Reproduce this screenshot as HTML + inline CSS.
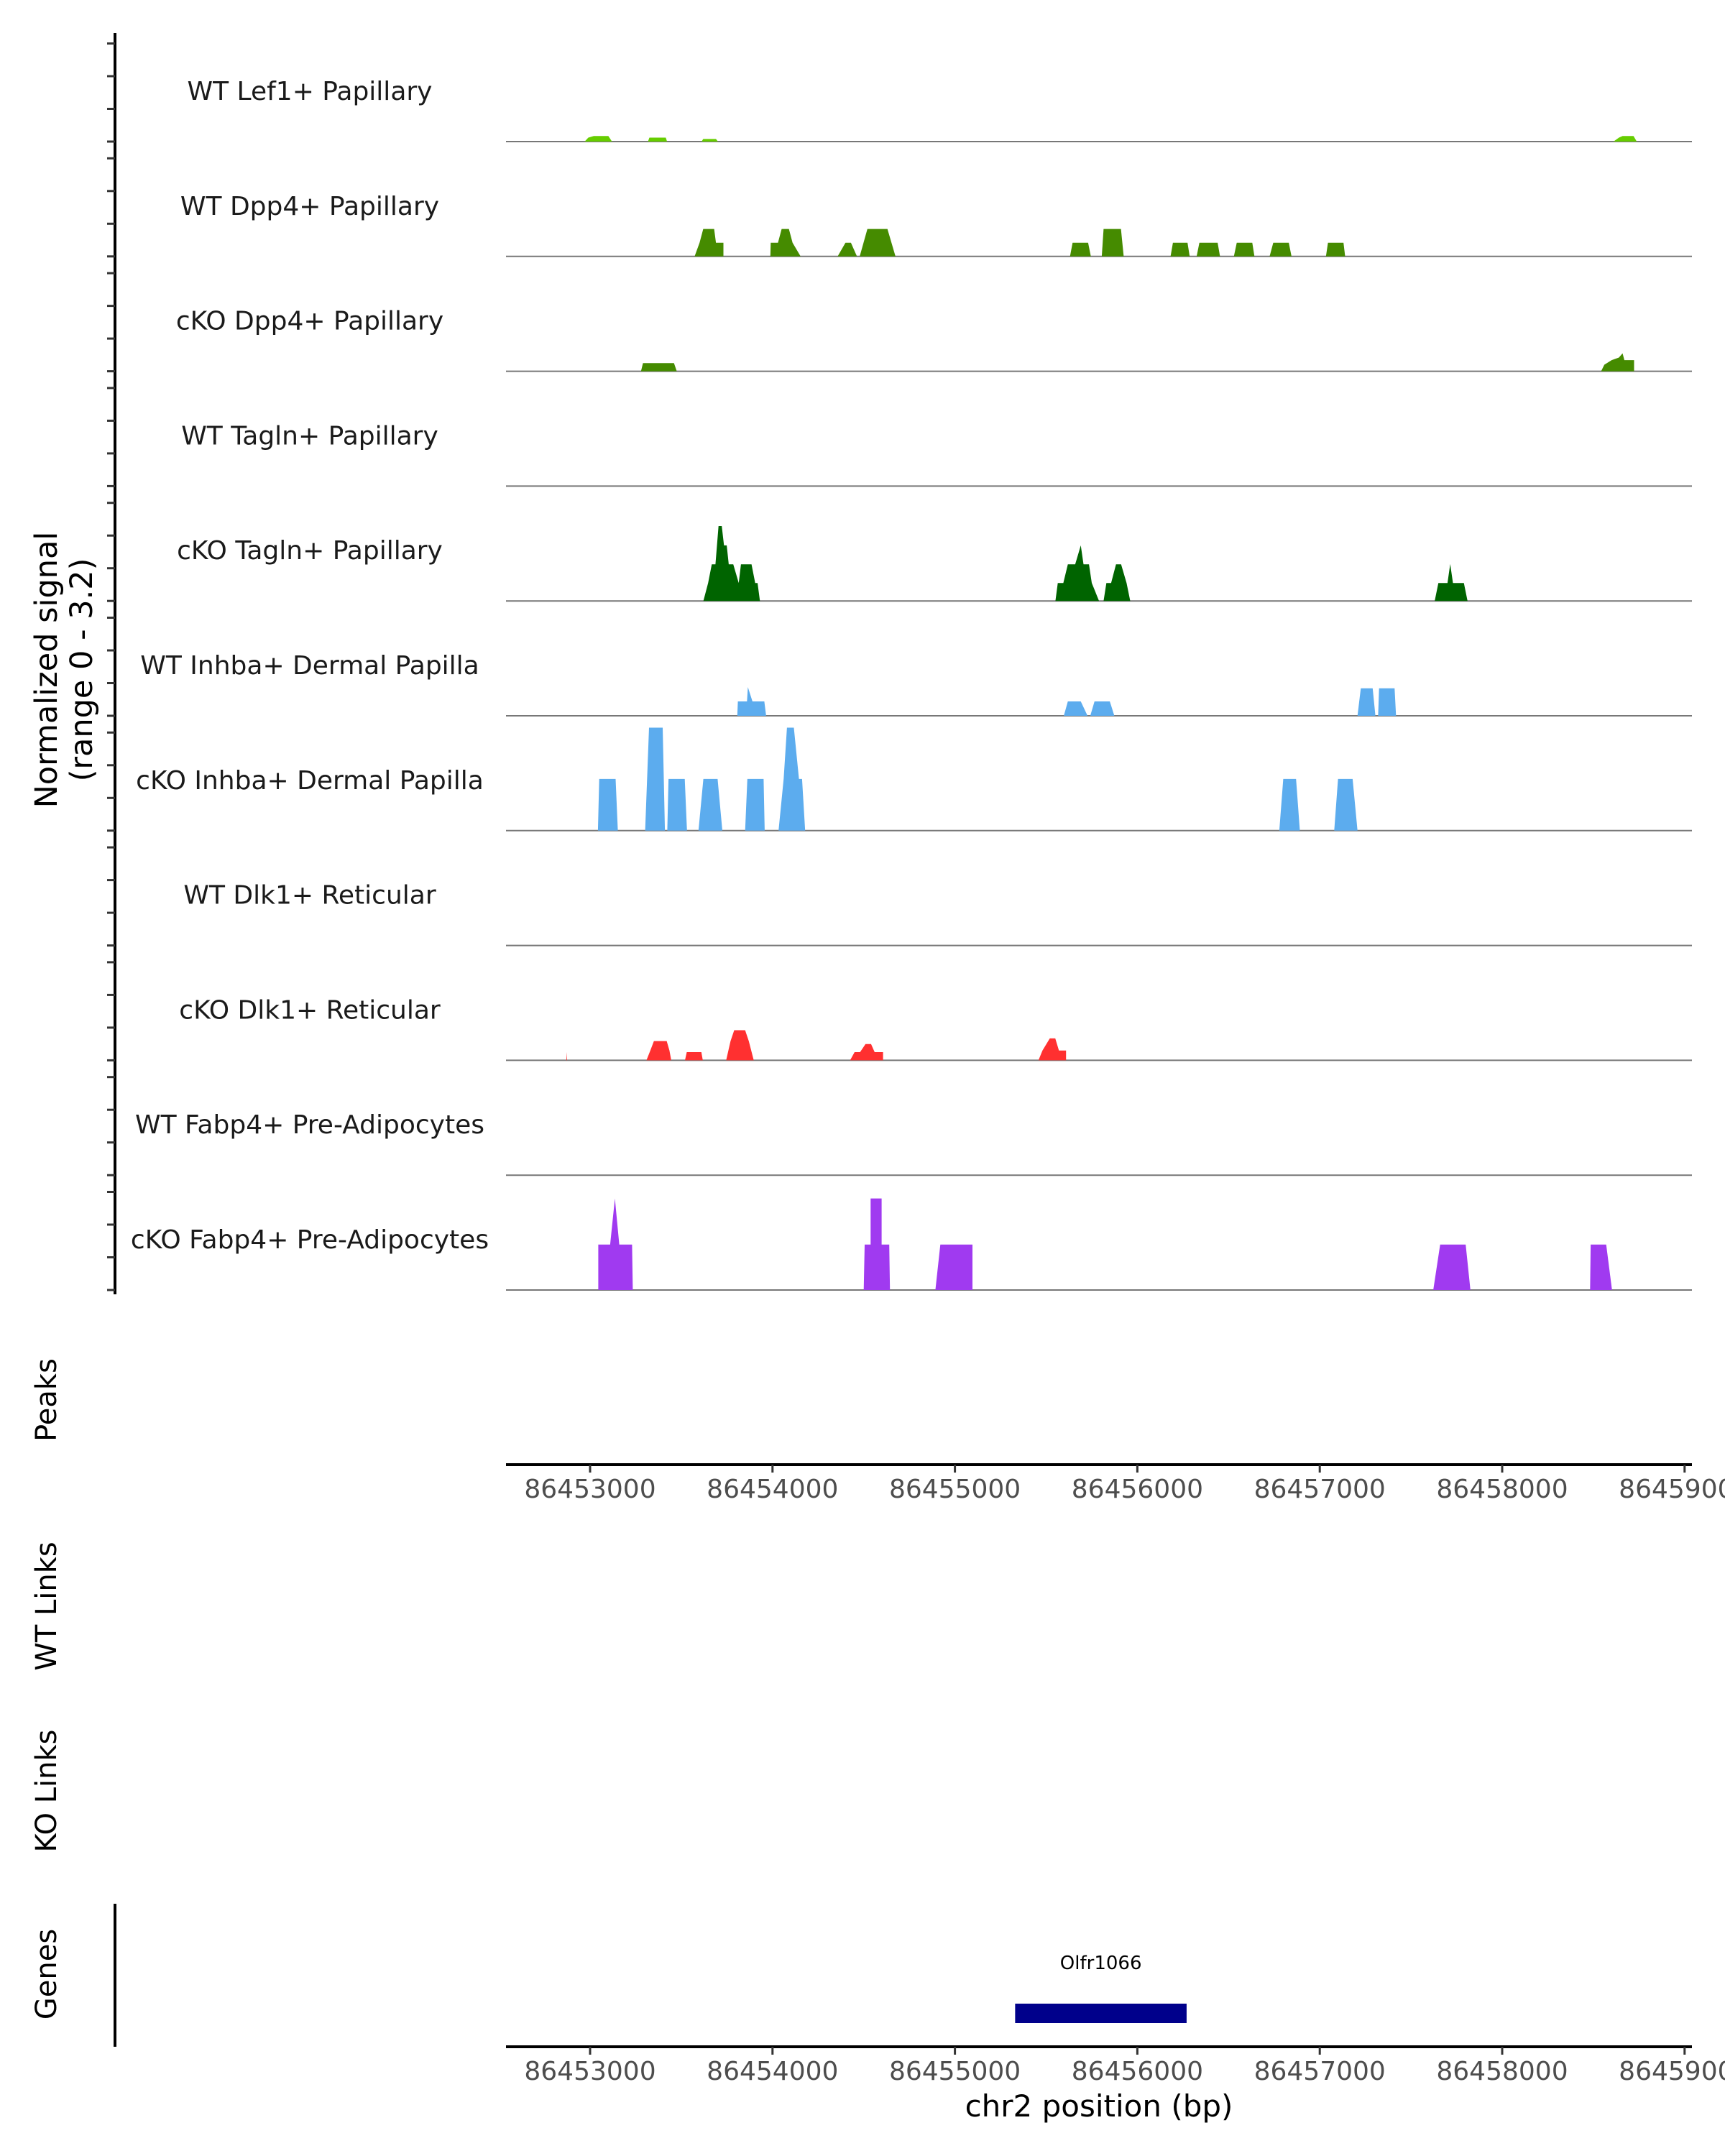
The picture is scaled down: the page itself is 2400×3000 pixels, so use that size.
<!DOCTYPE html>
<html><head><meta charset="utf-8"><style>
html,body{margin:0;padding:0;background:#fff;}
svg{display:block;font-family:"DejaVu Sans","Liberation Sans",sans-serif;}
</style></head><body>
<svg id="chart" width="2400" height="3000" viewBox="0 0 2400 3000" xmlns="http://www.w3.org/2000/svg"></svg>
<script>
// ---- data ----
const trackNames = ["WT Lef1+ Papillary","WT Dpp4+ Papillary","cKO Dpp4+ Papillary","WT Tagln+ Papillary","cKO Tagln+ Papillary","WT Inhba+ Dermal Papilla","cKO Inhba+ Dermal Papilla","WT Dlk1+ Reticular","cKO Dlk1+ Reticular","WT Fabp4+ Pre-Adipocytes","cKO Fabp4+ Pre-Adipocytes"];
const trackColors = ["#66CD00","#458B00","#458B00","#006400","#006400","#5CACEE","#5CACEE","#FF3030","#FF3030","#A03AF0","#A03AF0"];
const regionStart = 86453000;
const xTicks = [86453000,86454000,86455000,86456000,86457000,86458000,86459000];
const yTicks = [0,1,2,3];
// peaks: arrays of [bp offset from regionStart, signal]
const lef1WT = [
 [[-30,0],[-10,0.12],[20,0.17],[100,0.17],[120,0]],
 [[317,0],[325,0.12],[415,0.12],[422,0]],
 [[611,0],[620,0.08],[690,0.08],[701,0]],
 [[5610,0],[5640,0.12],[5660,0.17],[5720,0.17],[5738,0]]];
const dpp4WT = [
 [[573,0],[600,0.42],[620,0.84],[680,0.84],[690,0.42],[731,0.42],[731,0]],
 [[988,0],[990,0.42],[1030,0.42],[1050,0.84],[1090,0.84],[1110,0.42],[1154,0]],
 [[1357,0],[1400,0.42],[1430,0.42],[1463,0]],
 [[1478,0],[1520,0.84],[1630,0.84],[1674,0]],
 [[2631,0],[2645,0.42],[2730,0.42],[2745,0]],
 [[2805,0],[2815,0.84],[2910,0.84],[2925,0]],
 [[3182,0],[3195,0.42],[3275,0.42],[3287,0]],
 [[3325,0],[3340,0.42],[3440,0.42],[3453,0]],
 [[3529,0],[3545,0.42],[3630,0.42],[3642,0]],
 [[3725,0],[3745,0.42],[3830,0.42],[3845,0]],
 [[4034,0],[4045,0.42],[4130,0.42],[4139,0]]];
const dpp4KO = [
 [[279,0],[290,0.25],[460,0.25],[475,0]],
 [[5542,0],[5560,0.2],[5600,0.34],[5640,0.42],[5660,0.55],[5670,0.34],[5723,0.34],[5723,0]]];
const taglnWT = [];
const taglnKO = [
 [[621,0],[647,0.55],[667,1.12],[687,1.12],[704,2.29],[722,2.29],[734,1.7],[749,1.7],[760,1.12],[785,1.12],[815,0.55],[827,1.12],[885,1.12],[905,0.55],[918,0.55],[931,0]],
 [[2551,0],[2564,0.55],[2594,0.55],[2619,1.12],[2659,1.12],[2690,1.7],[2705,1.12],[2735,1.12],[2750,0.55],[2790,0]],
 [[2815,0],[2830,0.55],[2856,0.55],[2883,1.12],[2911,1.12],[2941,0.55],[2961,0]],
 [[4630,0],[4650,0.55],[4700,0.55],[4715,1.13],[4730,0.55],[4790,0.55],[4810,0]]];
const inhbaWT = [
 [[807,0],[810,0.44],[860,0.44],[865,0.88],[890,0.44],[955,0.44],[965,0]],
 [[2597,0],[2619,0.44],[2690,0.44],[2727,0]],
 [[2742,0],[2765,0.44],[2849,0.44],[2874,0]],
 [[4207,0],[4225,0.84],[4290,0.84],[4305,0]],
 [[4320,0],[4325,0.84],[4410,0.84],[4418,0]]];
const inhbaKO = [
 [[43,0],[50,1.58],[140,1.58],[152,0]],
 [[302,0],[323,3.15],[398,3.15],[410,0]],
 [[423,0],[430,1.58],[519,1.58],[531,0]],
 [[594,0],[621,1.58],[699,1.58],[725,0]],
 [[850,0],[862,1.58],[951,1.58],[957,0]],
 [[1033,0],[1061,1.58],[1079,3.15],[1117,3.15],[1145,1.58],[1162,1.58],[1179,0]],
 [[3778,0],[3800,1.58],[3870,1.58],[3891,0]],
 [[4079,0],[4100,1.58],[4180,1.58],[4207,0]]];
const dlk1WT = [];
const dlk1KO = [
 [[-130,0],[-128,0.25],[-126,0]],
 [[309,0],[330,0.3],[350,0.59],[420,0.59],[435,0.3],[445,0]],
 [[520,0],[530,0.25],[610,0.25],[618,0]],
 [[746,0],[770,0.59],[790,0.92],[850,0.92],[870,0.59],[897,0]],
 [[1425,0],[1450,0.25],[1480,0.25],[1510,0.5],[1540,0.5],[1560,0.25],[1606,0.25],[1606,0]],
 [[2458,0],[2480,0.3],[2520,0.67],[2550,0.67],[2570,0.3],[2609,0.3],[2609,0]]];
const fabp4WT = [];
const fabp4KO = [
 [[45,0],[45,1.39],[110,1.39],[136,2.8],[160,1.39],[230,1.39],[234,0]],
 [[1500,0],[1505,1.39],[1538,1.39],[1538,2.8],[1598,2.8],[1598,1.39],[1640,1.39],[1644,0]],
 [[1893,0],[1920,1.39],[2096,1.39],[2096,0]],
 [[4622,0],[4660,1.39],[4800,1.39],[4826,0]],
 [[5482,0],[5485,1.39],[5570,1.39],[5602,0]]];
const trackData = [lef1WT,dpp4WT,dpp4KO,taglnWT,taglnKO,inhbaWT,inhbaKO,dlk1WT,dlk1KO,fabp4WT,fabp4KO];
const geneStart = 86455330, geneEnd = 86456270;

// ---- scales ----
const svg = document.getElementById('chart');
const NS = 'http://www.w3.org/2000/svg';
function xs(bp){ return 821 + (bp - 86453000) * 0.2538; }
function base(i){ return 197 + i * 159.8; }
function ys(i, v){ return base(i) - v * 45.5; }
function mk(tag, attrs, parent){ const e=document.createElementNS(NS,tag); for(const k in attrs) e.setAttribute(k,attrs[k]); (parent||svg).appendChild(e); return e; }

const yAxis = mk('line',{x1:160,y1:46,x2:160,y2:1801,stroke:'#000','stroke-width':4});


trackNames.forEach((name,i)=>{
  yTicks.forEach(t=>{
    const tk = mk('line',{x1:149,y1:ys(i,t),x2:160,y2:ys(i,t),stroke:'#333','stroke-width':3});
    
    
  });
  const bl = mk('line',{x1:704,y1:base(i),x2:2354,y2:base(i),stroke:'#777','stroke-width':2});
  
  
  const lb = mk('text',{x:431,y:base(i)-58,'text-anchor':'middle','font-size':36,fill:'#1a1a1a'});
  lb.textContent = name;
  
  
  trackData[i].forEach(pk=>{
    const pts = pk.map(p=>xs(regionStart+p[0]).toFixed(1)+','+ys(i,p[1]).toFixed(1)).join(' ');
    const pg = mk('polygon',{points:pts,fill:trackColors[i]});
    
    
  });
});

const yt = mk('text',{transform:'translate(92,932) rotate(-90)','text-anchor':'middle','font-size':43,fill:'#000'});


const t1 = mk('tspan',{x:0,y:-13},yt); t1.textContent='Normalized signal';
const t2 = mk('tspan',{x:0,y:36},yt); t2.textContent='(range 0 - 3.2)';

[['Peaks',1948],['WT Links',2235],['KO Links',2492],['Genes',2747]].forEach(s=>{
  const t = mk('text',{transform:'translate(78,'+s[1]+') rotate(-90)','text-anchor':'middle','font-size':40,fill:'#000'});
  t.textContent = s[0];
  
  
});

function xAxis(y, name){
  const l = mk('line',{x1:704,y1:y,x2:2354,y2:y,stroke:'#000','stroke-width':4});
  
  
  xTicks.forEach(t=>{
    const tk = mk('line',{x1:xs(t),y1:y,x2:xs(t),y2:y+11,stroke:'#333','stroke-width':3});
    
    
    const tl = mk('text',{x:xs(t),y:y+46,'text-anchor':'middle','font-size':36,fill:'#4d4d4d'});
    tl.textContent = t;
    
    
  });
}
xAxis(2038,'peaks-x-axis');
xAxis(2848,'genes-x-axis');

const ga = mk('line',{x1:160,y1:2649,x2:160,y2:2848,stroke:'#000','stroke-width':4});



const gb = mk('rect',{x:xs(geneStart),y:2788,width:xs(geneEnd)-xs(geneStart),height:27,fill:'#00008B'});


const gl = mk('text',{x:(xs(geneStart)+xs(geneEnd))/2,y:2740,'text-anchor':'middle','font-size':26,fill:'#000'});
gl.textContent='Olfr1066';



const xt = mk('text',{x:1529,y:2945,'text-anchor':'middle','font-size':42,fill:'#000'});
xt.textContent='chr2 position (bp)';


</script>
</body></html>
